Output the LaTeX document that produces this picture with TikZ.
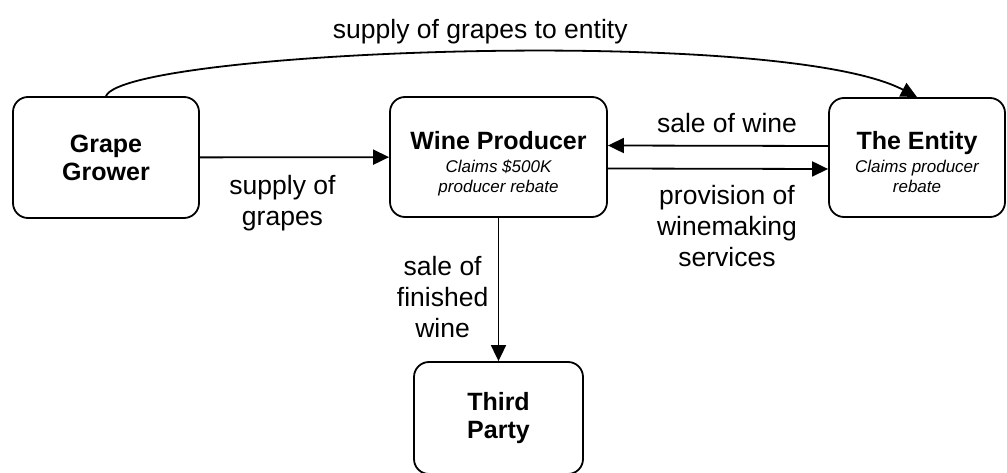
\documentclass[tikz,border=0pt]{standalone}
\usepackage{fontspec}
\setmainfont{Liberation Sans}
\usetikzlibrary{arrows.meta}

\tikzset{
  party/.style={draw, rounded corners=15pt, line width=1.8pt, align=center,
    inner sep=0pt, font=\fontsize{25}{28}\selectfont\bfseries},
  flow/.style={-{Triangle[length=16pt,width=15pt]}, line width=1.8pt},
  lbl/.style={align=center, font=\fontsize{26.5}{31}\selectfont}
}
\newcommand{\claim}[1]{{\fontsize{17}{20}\selectfont\mdseries\itshape #1}}

\begin{document}
\begin{tikzpicture}[x=1pt, y=-1pt]
  \useasboundingbox (0,0) rectangle (1007,473);

  \node[party, minimum width=186pt, minimum height=121pt] (grower)   at (106,157.5) {Grape\\Grower};
  \node[party, minimum width=217pt, minimum height=120pt] (producer) at (498.5,157)
    {\rule{0pt}{31pt}Wine Producer\\[-5pt]\claim{Claims \$500K}\\[-8pt]\claim{producer rebate}};
  \node[party, minimum width=176pt, minimum height=119pt] (entity)   at (917,157.5)
    {\rule{0pt}{27pt}The Entity\\[-5pt]\claim{Claims producer}\\[-8pt]\claim{rebate}};
  \node[party, minimum width=169pt, minimum height=112pt] (third)    at (498.5,418) {Third\\Party};

  \path[flow] (grower) edge node[lbl, below, xshift=-12pt, yshift=-14pt] {supply of\\grapes} (producer)
    ([yshift=11.5pt]entity.west) edge node[lbl, above, xshift=9pt, yshift=9pt] {sale of wine} ([yshift=11.5pt]producer.east)
    ([yshift=-11.5pt]producer.east) edge node[lbl, below, xshift=9pt, yshift=-12pt] {provision of\\winemaking\\services} ([yshift=-11.5pt]entity.west)
    (producer) edge node[lbl, left, xshift=-6pt, yshift=-8pt] {sale of\\finished\\wine} (third);

  \draw[flow] (grower.north) .. controls (125,50) and (780,25) ..
    node[lbl, above, xshift=13pt, yshift=4pt] {supply of grapes to entity} (entity.north);
\end{tikzpicture}
\end{document}
